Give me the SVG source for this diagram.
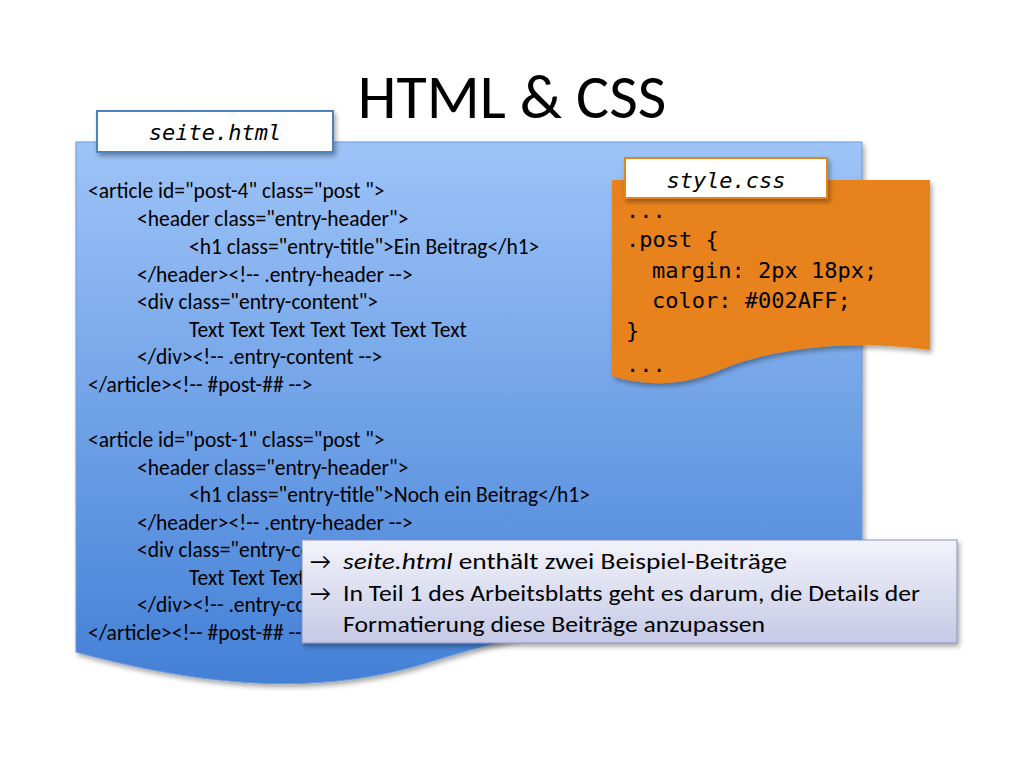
<svg xmlns="http://www.w3.org/2000/svg" width="1024" height="768" viewBox="0 0 1024 768">
<defs>
<linearGradient id="gb" x1="0" y1="0" x2="0" y2="1"><stop offset="0" stop-color="#9EC4F8"/><stop offset="1" stop-color="#4380D6"/></linearGradient>
<linearGradient id="gc" x1="0" y1="0" x2="0" y2="1"><stop offset="0" stop-color="#F3F3FA"/><stop offset="1" stop-color="#C6C9E6"/></linearGradient>
<filter id="sh" x="-10%" y="-10%" width="130%" height="130%"><feDropShadow dx="2" dy="3" stdDeviation="2.5" flood-opacity="0.35"/></filter>
<style>
.h{font-family:Calibri,Lato,"Liberation Sans",sans-serif;font-size:21.5px;fill:#000}
.m{font-family:"DejaVu Sans Mono","Liberation Mono",monospace;font-size:22px;fill:#000}
.c{font-family:Calibri,Lato,"Liberation Sans",sans-serif;font-size:23px;fill:#000}
.lab{font-family:"DejaVu Sans Mono","Liberation Mono",monospace;font-style:italic;font-size:22px;text-anchor:middle}
</style>
</defs>
<rect width="1024" height="768" fill="#fff"/>
<text x="512" y="118" text-anchor="middle" font-family="Calibri,Lato,'Liberation Sans',sans-serif" font-size="62">HTML &amp; CSS</text>
<g id="seite">
<path d="M76,142 H862 V610 C700,600 560,620 420,665 C300,700 180,680 76,652 Z" fill="url(#gb)" stroke="#6A98D8" stroke-width="1" filter="url(#sh)"/>
<rect x="97" y="111" width="236" height="41" fill="#fff" stroke="#4F81BD" stroke-width="2" filter="url(#sh)"/>
<text class="lab" x="215" y="140">seite.html</text>
<g class="h">
<text x="88" y="198">&lt;article id="post-4" class="post "&gt;</text>
<text x="137" y="226">&lt;header class="entry-header"&gt;</text>
<text x="189" y="254">&lt;h1 class="entry-title"&gt;Ein Beitrag&lt;/h1&gt;</text>
<text x="137" y="282">&lt;/header&gt;&lt;!-- .entry-header --&gt;</text>
<text x="137" y="309">&lt;div class="entry-content"&gt;</text>
<text x="189" y="337">Text Text Text Text Text Text Text</text>
<text x="137" y="364">&lt;/div&gt;&lt;!-- .entry-content --&gt;</text>
<text x="88" y="392">&lt;/article&gt;&lt;!-- #post-## --&gt;</text>
<text x="88" y="447">&lt;article id="post-1" class="post "&gt;</text>
<text x="137" y="475">&lt;header class="entry-header"&gt;</text>
<text x="189" y="502">&lt;h1 class="entry-title"&gt;Noch ein Beitrag&lt;/h1&gt;</text>
<text x="137" y="530">&lt;/header&gt;&lt;!-- .entry-header --&gt;</text>
<text x="137" y="557">&lt;div class="entry-content"&gt;</text>
<text x="189" y="585">Text Text Text Text Text Text Text</text>
<text x="137" y="612">&lt;/div&gt;&lt;!-- .entry-content --&gt;</text>
<text x="88" y="640">&lt;/article&gt;&lt;!-- #post-## --&gt;</text>
</g>
</g>
<g id="style">
<path d="M612,180 H930 V350 C860,340 780,345 720,370 C680,388 640,385 612,376 Z" fill="#E7821F" filter="url(#sh)"/>
<rect x="625" y="158" width="202" height="40" fill="#fff" stroke="#E7821F" stroke-width="2" filter="url(#sh)"/>
<text class="lab" x="726" y="188">style.css</text>
<g class="m">
<text x="626" y="218">...</text>
<text x="626" y="247">.post {</text>
<text x="652" y="278">margin: 2px 18px;</text>
<text x="652" y="308">color: #002AFF;</text>
<text x="626" y="338">}</text>
<text x="626" y="372">...</text>
</g>
</g>
<g id="callout">
<rect x="302" y="540" width="655" height="103" fill="url(#gc)" stroke="#8C90C2" stroke-width="1" filter="url(#sh)"/>
<g class="c">
<text x="310" y="569">→</text>
<text x="343" y="569" textLength="444" lengthAdjust="spacingAndGlyphs"><tspan font-style="italic">seite.html</tspan> enthält zwei Beispiel-Beiträge</text>
<text x="310" y="601">→</text>
<text x="343" y="601" textLength="577" lengthAdjust="spacingAndGlyphs">In Teil 1 des Arbeitsblatts geht es darum, die Details der</text>
<text x="343" y="632" textLength="422" lengthAdjust="spacingAndGlyphs">Formatierung diese Beiträge anzupassen</text>
</g>
</g>
</svg>
